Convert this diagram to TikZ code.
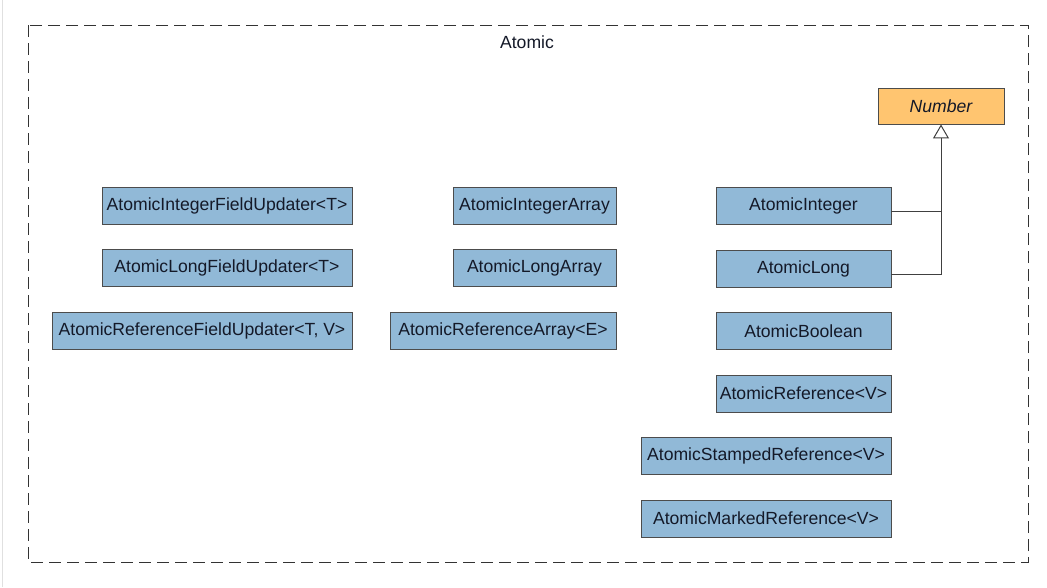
\documentclass[tikz,border=0pt]{standalone}
\usepackage{fontspec}
\setmainfont{Liberation Sans}
\usetikzlibrary{arrows.meta}
\definecolor{boxblue}{RGB}{145,185,215}
\definecolor{boxorange}{RGB}{255,197,112}
\definecolor{txt}{RGB}{20,25,40}
\tikzset{
  cls/.style={draw=black!70, line width=0.9pt, fill=boxblue, minimum height=37pt,
    inner sep=0pt, text=txt, font=\fontsize{17.6}{20}\selectfont},
  abscls/.style={cls, fill=boxorange, font=\fontsize{17.6}{20}\selectfont\itshape},
  conn/.style={draw=black!75, line width=0.9pt},
  gen/.style={conn, -{Triangle[open, length=14pt, width=16pt, line width=1pt]}}
}
\begin{document}
\begin{tikzpicture}[x=1pt, y=-1pt]
\useasboundingbox (0,0) rectangle (1047,587);
\fill[white] (0,0) rectangle (1047,587);
\draw[black!12, line width=1pt] (2,0) -- (2,587);
% package frame
\draw[black!80, line width=1pt, dash pattern=on 12pt off 6pt] (28,25) rectangle (1028,562);
\node[font=\fontsize{17.6}{20}\selectfont, text=txt] (title) at (527,42) {Atomic};
% left column
\node[cls, minimum width=250pt] (aifu) at (227,205.5) {AtomicIntegerFieldUpdater<T>};
\node[cls, minimum width=250pt] (alfu) at (227,268) {AtomicLongFieldUpdater<T>};
\node[cls, minimum width=300pt] (arfu) at (202,330.5) {AtomicReferenceFieldUpdater<T, V>};
% middle column
\node[cls, minimum width=163pt] (aia) at (534.5,205.5) {AtomicIntegerArray};
\node[cls, minimum width=163pt] (ala) at (534.5,268) {AtomicLongArray};
\node[cls, minimum width=226pt] (ara) at (503,331) {AtomicReferenceArray<E>};
% right column
\node[cls, minimum width=175pt] (ai) at (803.5,205.5) {AtomicInteger};
\node[cls, minimum width=175pt] (al) at (803.5,268.5) {AtomicLong};
\node[cls, minimum width=175pt] (ab) at (803.5,331) {AtomicBoolean};
\node[cls, minimum width=175pt] (ar) at (803.5,393.5) {AtomicReference<V>};
\node[cls, minimum width=250pt] (asr) at (766,456) {AtomicStampedReference<V>};
\node[cls, minimum width=250pt] (amr) at (766,518.5) {AtomicMarkedReference<V>};
% Number
\node[abscls, minimum width=126pt, minimum height=36pt] (num) at (941,106) {Number};
% generalization
\coordinate (jI) at ([yshift=-6pt]ai.east);
\coordinate (jL) at ([yshift=-6pt]al.east);
\draw[gen] (jL) -| (num.south);
\draw[conn] (jI) -- (jI -| num.south);
\end{tikzpicture}
\end{document}
